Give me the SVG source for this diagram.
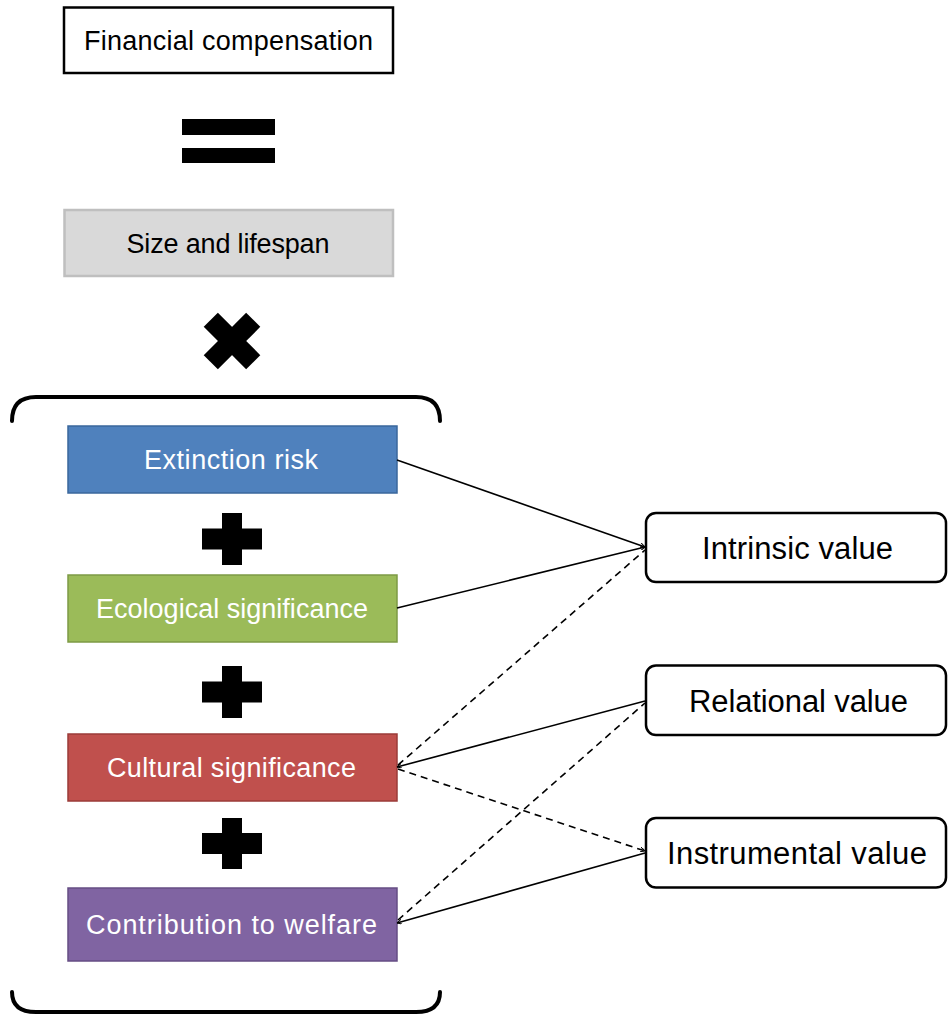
<svg xmlns="http://www.w3.org/2000/svg" width="948" height="1015" viewBox="0 0 948 1015">
  <style>
    .t { font-family: "Liberation Sans", Arial, sans-serif; text-anchor: middle; }
    .dark { fill: #000000; font-size: 27px; }
    .light { fill: #ffffff; font-size: 27px; }
    .val { fill: #000000; font-size: 31px; }
    .conn { stroke: #000000; stroke-width: 1.6; fill: none; }
    .dash { stroke-dasharray: 7 5; }
    .brace { stroke: #000000; stroke-width: 4; fill: none; stroke-linecap: round; }
    .op { fill: #000000; }
  </style>
  <defs>
    <marker id="arr" viewBox="0 0 10 10" refX="10" refY="5" markerWidth="5" markerHeight="5" orient="auto" markerUnits="userSpaceOnUse">
      <path d="M0,0 L10,5 L0,10" fill="none" stroke="#000" stroke-width="2"/>
    </marker>
  </defs>
  <rect x="0" y="0" width="948" height="1015" fill="#ffffff"/>

  <g id="financial">
    <rect x="64" y="7.5" width="329" height="65.5" fill="#ffffff" stroke="#000000" stroke-width="2.5"/>
    <text class="t dark" x="228.5" y="50" textLength="289">Financial compensation</text>
  </g>

  <g id="equals">
    <rect class="op" x="182" y="119" width="93" height="16"/>
    <rect class="op" x="182" y="148" width="93" height="15"/>
  </g>

  <g id="size">
    <rect x="64.5" y="210" width="328.5" height="66" fill="#d9d9d9" stroke="#bfbfbf" stroke-width="2.5"/>
    <text class="t dark" x="228" y="252.5" textLength="203">Size and lifespan</text>
  </g>

  <g id="times">
    <rect class="op" x="202" y="331" width="60" height="20" transform="rotate(45 232 341)"/>
    <rect class="op" x="202" y="331" width="60" height="20" transform="rotate(-45 232 341)"/>
  </g>

  <g id="brace-top">
    <path class="brace" d="M12,421 Q12,397 36,397 L416,397 Q440,397 440,421"/>
  </g>

  <g id="extinction">
    <rect x="68" y="426" width="329" height="67" fill="#4f81bd" stroke="#3a679c" stroke-width="1.5"/>
    <text class="t light" x="231" y="468.5" textLength="174">Extinction risk</text>
  </g>

  <g id="plus1">
    <rect class="op" x="222" y="513" width="20" height="52"/>
    <rect class="op" x="202" y="528.5" width="60" height="21"/>
  </g>

  <g id="ecological">
    <rect x="68" y="575" width="329" height="67" fill="#9bbb59" stroke="#7d9a45" stroke-width="1.5"/>
    <text class="t light" x="232" y="617.5" textLength="272">Ecological significance</text>
  </g>

  <g id="plus2">
    <rect class="op" x="222" y="666" width="20" height="52"/>
    <rect class="op" x="202" y="681.5" width="60" height="21"/>
  </g>

  <g id="cultural">
    <rect x="68" y="734" width="329" height="67" fill="#c0504d" stroke="#9b3b38" stroke-width="1.5"/>
    <text class="t light" x="231.5" y="777" textLength="249">Cultural significance</text>
  </g>

  <g id="plus3">
    <rect class="op" x="222" y="818" width="20" height="51"/>
    <rect class="op" x="202" y="833" width="60" height="21"/>
  </g>

  <g id="contribution">
    <rect x="68" y="888" width="329" height="73" fill="#8064a2" stroke="#654d84" stroke-width="1.5"/>
    <text class="t light" x="231.5" y="934" textLength="291">Contribution to welfare</text>
  </g>

  <g id="brace-bottom">
    <path class="brace" d="M12,992 Q12,1012 36,1012 L416,1012 Q440,1012 440,992"/>
  </g>

  <g id="intrinsic">
    <rect x="646" y="513" width="300" height="69" rx="10" ry="10" fill="#ffffff" stroke="#000000" stroke-width="2.5"/>
    <text class="t val" x="797.5" y="559" textLength="191">Intrinsic value</text>
  </g>

  <g id="relational">
    <rect x="646" y="665.5" width="300" height="69.5" rx="10" ry="10" fill="#ffffff" stroke="#000000" stroke-width="2.5"/>
    <text class="t val" x="798.5" y="711.5" textLength="219">Relational value</text>
  </g>

  <g id="instrumental">
    <rect x="646" y="818" width="300" height="69.5" rx="10" ry="10" fill="#ffffff" stroke="#000000" stroke-width="2.5"/>
    <text class="t val" x="797" y="864" textLength="260">Instrumental value</text>
  </g>

  <g id="connectors">
    <line class="conn" x1="397" y1="460" x2="645" y2="547" marker-end="url(#arr)"/>
    <line class="conn" x1="397" y1="608" x2="645" y2="547" marker-end="url(#arr)"/>
    <line class="conn dash" x1="398" y1="765" x2="645" y2="550"/>
    <line class="conn" x1="645" y1="701" x2="397" y2="767" marker-end="url(#arr)"/>
    <line class="conn dash" x1="398" y1="769" x2="645" y2="851" marker-end="url(#arr)"/>
    <line class="conn dash" x1="398" y1="920" x2="645" y2="703"/>
    <line class="conn" x1="645" y1="853" x2="397" y2="923" marker-end="url(#arr)"/>
  </g>
</svg>
